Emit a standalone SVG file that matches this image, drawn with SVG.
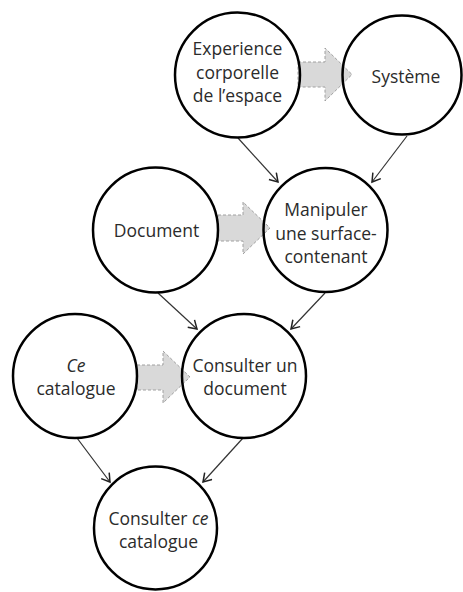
<svg xmlns="http://www.w3.org/2000/svg" width="463" height="592" viewBox="0 0 463 592">
  <defs>
    <style>
      .node circle { fill: none; stroke: #000; stroke-width: 2.5; }
      .node text { font-family: "Open Sans", "Noto Sans", sans-serif; font-size: 17.5px; fill: #2b2b2b; text-anchor: middle; }
      .block { fill: #d9d9d9; stroke: #a0a0a0; stroke-width: 1; stroke-dasharray: 3 2; }
      .conn { stroke: #333; stroke-width: 1.2; fill: none; marker-end: url(#arr); }
    </style>
    <marker id="arr" markerUnits="userSpaceOnUse" markerWidth="14" markerHeight="14" refX="10" refY="6" orient="auto">
      <path d="M2,1 L10,6 L2,11" fill="none" stroke="#222" stroke-width="1.5"/>
    </marker>
  </defs>
  <rect width="463" height="592" fill="#fff"/>

  <g id="block-arrows">
    <path class="block" d="M298,62 L325,62 L325,48 L352,74.5 L325,101 L325,87 L298,87 Z"/>
    <path class="block" d="M218,215 L243,215 L243,202 L270,228 L243,254 L243,241 L218,241 Z"/>
    <path class="block" d="M137,365 L163,365 L163,351 L190,377 L163,403 L163,390 L137,390 Z"/>
  </g>

  <g id="connectors">
    <line class="conn" x1="238" y1="138" x2="278" y2="182"/>
    <line class="conn" x1="407" y1="136" x2="372" y2="182"/>
    <line class="conn" x1="158" y1="293" x2="197" y2="329"/>
    <line class="conn" x1="325" y1="293" x2="291" y2="329"/>
    <line class="conn" x1="77" y1="438" x2="110" y2="482"/>
    <line class="conn" x1="243" y1="438" x2="203" y2="482"/>
  </g>

  <g id="n-experience" class="node">
    <circle cx="237.5" cy="75" r="62.5"/>
    <text x="237.5" y="55">Experience</text>
    <text x="237.5" y="78.5">corporelle</text>
    <text x="237.5" y="102">de l’espace</text>
  </g>
  <g id="n-systeme" class="node">
    <circle cx="402" cy="75" r="59.5"/>
    <text x="406" y="83">Système</text>
  </g>
  <g id="n-manipuler" class="node">
    <circle cx="325.5" cy="230" r="62"/>
    <text x="326" y="216">Manipuler</text>
    <text x="326" y="240">une surface-</text>
    <text x="326" y="263">contenant</text>
  </g>
  <g id="n-document" class="node">
    <circle cx="155.5" cy="230" r="62.5"/>
    <text x="156.5" y="237">Document</text>
  </g>
  <g id="n-ce-catalogue" class="node">
    <circle cx="75" cy="376" r="62"/>
    <text x="76" y="372" font-style="italic">Ce</text>
    <text x="76" y="395">catalogue</text>
  </g>
  <g id="n-consulter-doc" class="node">
    <circle cx="244" cy="376" r="62"/>
    <text x="245" y="372">Consulter un</text>
    <text x="245" y="395">document</text>
  </g>
  <g id="n-consulter-cat" class="node">
    <circle cx="155.5" cy="528" r="61.5"/>
    <text x="158.5" y="525">Consulter <tspan font-style="italic">ce</tspan></text>
    <text x="158.5" y="548">catalogue</text>
  </g>
</svg>
